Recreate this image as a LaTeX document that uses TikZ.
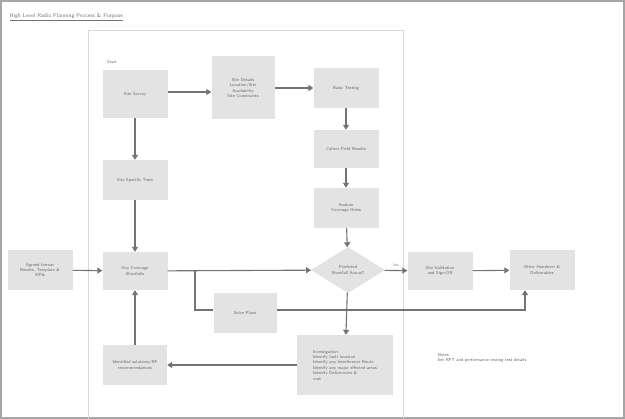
\documentclass[tikz,border=0pt]{standalone}
\usetikzlibrary{arrows.meta,shapes.geometric}
\begin{document}
\begin{tikzpicture}[x=1pt,y=-1pt,
  box/.style={fill=black!11,text=black!60,align=center,font=\fontsize{4.4}{5.4}\selectfont\sffamily,inner sep=1pt},
  arr/.style={draw=black!55,line width=1.1pt,-{Triangle[length=5pt,width=6pt]}},
  ln/.style={draw=black!55,line width=1.1pt}]
\useasboundingbox (0,0) rectangle (625,419);
\fill[white] (0,0) rectangle (625,419);
\draw[black!35,line width=1.5pt] (1,1) rectangle (624,418);
\draw[black!15,line width=0.8pt] (88,30) rectangle (403,419);
\node[anchor=west,text=black!55,font=\fontsize{5.5}{6}\selectfont\sffamily] (title) at (6,17) {\underline{High Level Radio Planning Process \& Purpose}};
\node[text=black!60,font=\fontsize{4.4}{5}\selectfont\sffamily] (start) at (112,62) {Start};
\node[box,minimum width=65pt,minimum height=48pt] (survey) at (135,94) {Site Survey};
\node[box,minimum width=63pt,minimum height=63pt] (details) at (243,88) {Site Details\\Location/Site\\Availability\\Site Constraints};
\node[box,minimum width=65pt,minimum height=40pt] (basic) at (346,88) {Basic Testing};
\node[box,minimum width=65pt,minimum height=38pt] (collect) at (346,149) {Collect Field Results};
\node[box,minimum width=65pt,minimum height=40pt] (analyse) at (346,208) {Analyse\\Coverage Holes};
\node[box,shape=diamond,aspect=1.6,minimum width=74pt,minimum height=46pt,inner sep=0pt] (dec) at (348,270) {Predicted\\Shortfall Actual?};
\node[box,minimum width=65pt,minimum height=40pt] (specific) at (135,180) {Site Specific Tests};
\node[box,minimum width=65pt,minimum height=38pt] (any) at (135,271) {Any Coverage\\Shortfalls};
\node[box,minimum width=65pt,minimum height=40pt] (agreed) at (40,270) {Agreed format\\Results, Template \&\\KPIs};
\node[box,minimum width=65pt,minimum height=38pt] (valid) at (440,271) {Site Validation\\and Sign-Off};
\node[box,minimum width=65pt,minimum height=40pt] (other) at (542,270) {Other Handover \&\\Deliverables};
\node[box,minimum width=63pt,minimum height=40pt] (solve) at (245,313) {Solve Plans};
\node[box,minimum width=96pt,minimum height=60pt,align=left] (inv) at (345,365) {Investigation:\\Identify fault location\\Identify any Interference Route\\Identify any major effected areas\\Identify Deficiencies \&\\cost};
\node[box,minimum width=64pt,minimum height=40pt] (ident) at (135,365) {Identified solutions/RF\\recommendations};
\node[anchor=west,text=black!60,align=left,font=\fontsize{4.4}{5.4}\selectfont\sffamily] (notes) at (434,358) {Notes:\\See RFT and performance testing test details};
\coordinate (br) at (195,271);
\coordinate (brd) at (195,310);
\coordinate (rt) at (525,310);
\draw[arr] (survey.east |- 0,92) -- (details.west |- 0,92);
\draw[arr] (details) -- (basic);
\draw[arr] (basic) -- (collect);
\draw[arr] (collect) -- (analyse);
\draw[arr] (analyse) -- (dec);
\draw[arr] (survey) -- (specific);
\draw[arr] (specific) -- (any);
\draw[arr] (agreed) -- (any);
\draw[arr] (any) -- (dec);
\draw[ln] (br) -- (brd) -- (solve.west |- brd);
\draw[arr] (solve.east |- rt) -- (rt) -- (other.south -| rt);
\draw[arr] (dec) -- node[above,text=black!60,font=\fontsize{3.5}{4}\selectfont\sffamily] {Yes} (valid);
\draw[arr] (valid) -- (other);
\draw[arr] (dec) -- (inv);
\draw[arr] (inv) -- (ident);
\draw[arr] (ident) -- (any);
\end{tikzpicture}
\end{document}
